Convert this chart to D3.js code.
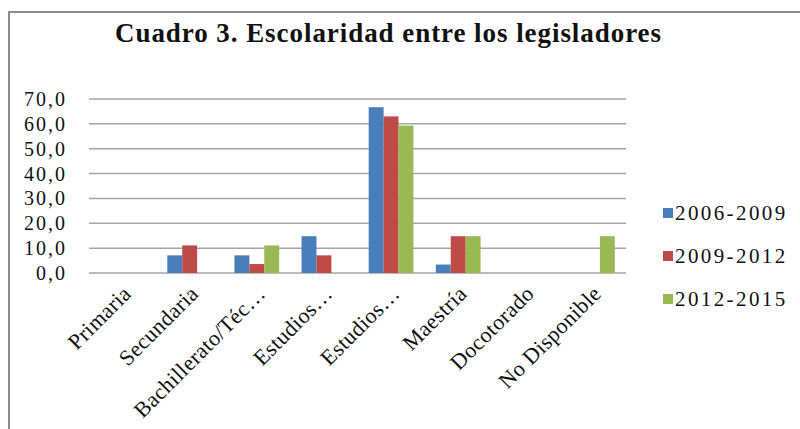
<!DOCTYPE html>
<html lang="es">
  <head>
    <meta charset="utf-8" />
    <title>Escolaridad entre los legisladores</title>
    <style>
      body {
        margin: 0;
        background: #fff;
      }
      svg text {
        font-family: "Liberation Serif", "Times New Roman", Times, serif;
        fill: #111;
      }
      .grid line {
        stroke: #a6a6a6;
        stroke-width: 1.5px;
      }
      .title {
        font-weight: bold;
        font-size: 27px;
      }
      .ytick {
        font-size: 20px;
        letter-spacing: 2px;
      }
      .xlabel {
        font-size: 22px;
        letter-spacing: 0.4px;
      }
      .legend text {
        font-size: 21px;
        letter-spacing: 2.4px;
      }
    </style>
    <script src="https://d3js.org/d3.v7.min.js"></script>
  </head>

  <body>
    <svg width="800" height="429"></svg>

    <script>
      // categories and series
      var categories = [
        "Primaria",
        "Secundaria",
        "Bachillerato/Téc…",
        "Estudios…",
        "Estudios…",
        "Maestría",
        "Docotorado",
        "No Disponible",
      ];
      var seriesNames = ["2006-2009", "2009-2012", "2012-2015"];
      var v2006 = [0, 7.1, 7.1, 14.8, 66.7, 3.4, 0, 0];
      var v2009 = [0, 11.1, 3.6, 7.1, 63.0, 14.8, 0, 0];
      var v2012 = [0, 0, 11.1, 0, 59.3, 14.8, 0, 14.8];
      var yTicks = [0, 10, 20, 30, 40, 50, 60, 70];
      var colors = ["#4a7ebb", "#be4b48", "#98b954"];

      var svg = d3.select("svg");

      // outer frame (only left and top edges are visible)
      svg
        .append("path")
        .attr("d", "M9,429V12H800")
        .attr("fill", "none")
        .attr("stroke", "#8c8c8c")
        .attr("stroke-width", 2);

      svg
        .append("text")
        .attr("class", "title")
        .attr("x", 388)
        .attr("y", 42)
        .attr("text-anchor", "middle")
        .attr("textLength", 546)
        .text("Cuadro 3. Escolaridad entre los legisladores");

      var x = d3
        .scaleBand()
        .domain(d3.range(categories.length))
        .range([89, 626]);

      var y = d3.scaleLinear().domain([0, 70]).range([273, 99]);

      var inner = d3
        .scaleBand()
        .domain(seriesNames)
        .range([0, x.bandwidth()])
        .paddingInner(0)
        .paddingOuter(0.75);

      // gridlines
      svg
        .append("g")
        .attr("class", "grid")
        .selectAll("line")
        .data(yTicks)
        .join("line")
        .attr("x1", x.range()[0])
        .attr("x2", x.range()[1])
        .attr("y1", (d) => y(d))
        .attr("y2", (d) => y(d));

      // y labels
      svg
        .append("g")
        .selectAll("text")
        .data(yTicks)
        .join("text")
        .attr("class", "ytick")
        .attr("x", 67)
        .attr("y", (d) => y(d))
        .attr("dy", "0.35em")
        .attr("text-anchor", "end")
        .text((d) => d3.format(".1f")(d).replace(".", ","));

      // bars
      var series = [v2006, v2009, v2012];
      svg
        .append("g")
        .selectAll("g")
        .data(series)
        .join("g")
        .attr("fill", (d, i) => colors[i])
        .selectAll("rect")
        .data((d, i) => d.map((v, j) => ({ v: v, j: j, s: seriesNames[i] })))
        .join("rect")
        .attr("x", (d) => x(d.j) + inner(d.s))
        .attr("width", inner.bandwidth())
        .attr("y", (d) => y(d.v))
        .attr("height", (d) => y(0) - y(d.v));

      // rotated category labels
      svg
        .append("g")
        .selectAll("text")
        .data(categories)
        .join("text")
        .attr("class", "xlabel")
        .attr("text-anchor", "end")
        .attr(
          "transform",
          (d, i) => `translate(${x(i) + x.bandwidth() / 2 + 10},${y(0) + 22}) rotate(-45)`
        )
        .text((d) => d);

      // legend
      var legend = svg
        .append("g")
        .attr("class", "legend")
        .selectAll("g")
        .data(seriesNames)
        .join("g")
        .attr("transform", (d, i) => `translate(663,${213 + i * 43})`);

      legend
        .append("rect")
        .attr("y", -5)
        .attr("width", 10)
        .attr("height", 10)
        .attr("fill", (d, i) => colors[i]);

      legend
        .append("text")
        .attr("x", 12)
        .attr("dy", "0.35em")
        .text((d) => d);
    </script>
  </body>
</html>
